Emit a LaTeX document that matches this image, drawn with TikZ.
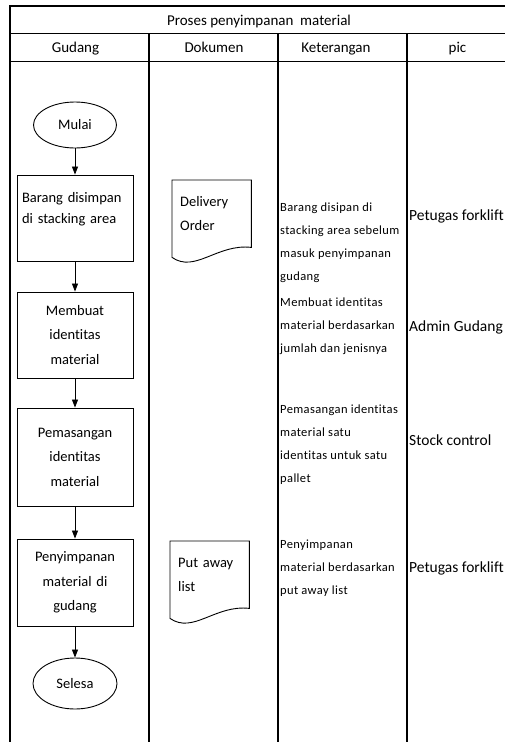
\documentclass[tikz,border=0pt]{standalone}
\usepackage{fontspec}
\setmainfont{Carlito}[Ligatures={NoCommon}]
\newfontfamily\ketfont{Carlito}[Ligatures={NoCommon},LetterSpace=3]
\usetikzlibrary{arrows.meta,shapes.geometric,calc}
\begin{document}
\begin{tikzpicture}[x=1pt,y=-1pt,
  tbl/.style={line width=1.6pt},
  hline/.style={line width=1pt},
  hdr/.style={font=\fontsize{15}{18}\selectfont, inner sep=0pt, anchor=base},
  procbox/.style={draw, line width=0.9pt, minimum width=116pt, text width=106pt, inner xsep=5pt, inner ysep=0pt, align=center, font=\fontsize{14.5}{24.5}\selectfont},
  term/.style={draw, ellipse, line width=0.9pt, inner sep=0pt, font=\fontsize{14.5}{17}\selectfont},
  doctext/.style={anchor=north west, minimum height=67pt, text width=63pt, inner xsep=8pt, inner ysep=0pt, align=left, font=\fontsize{14.5}{24}\selectfont},
  docline/.style={line width=0.9pt},
  ket/.style={anchor=west, align=left, inner sep=0pt, font=\ketfont\fontsize{12.5}{23}\selectfont},
  pictext/.style={anchor=west, inner sep=0pt, font=\fontsize{15.5}{18}\selectfont},
  flow/.style={-{Triangle[length=8pt,width=6pt]}, line width=0.8pt}
]
\useasboundingbox (0,0) rectangle (504,742);
\fill[white] (0,0) rectangle (504,742);

% table frame
\draw[tbl] (10,760) -- (10,6) -- (507,6) -- (507,760);
\draw[hline] (10,33) -- (507,33);
\draw[hline] (10,61) -- (507,61);
\draw[tbl] (149,33) -- (149,760);
\draw[tbl] (278,33) -- (278,760);
\draw[tbl] (407,33) -- (407,760);

% headers
\node[hdr] (title) at (259,25) {Proses penyimpanan~~material};
\node[hdr] (hg) at (75.5,52.5) {Gudang};
\node[hdr] (hd) at (214,52.5) {Dokumen};
\node[hdr] (hk) at (336,52.5) {Keterangan};
\node[hdr] (hp) at (457.5,52.5) {pic};

% Gudang column
\node[term, minimum width=83pt, minimum height=46pt] (mulai) at (75,125) {Mulai};
\node[procbox, align=left, font=\fontsize{14.5}{21}\selectfont, minimum height=86pt] (b1) at (75,218) {Barang disimpan\\di stacking area\\~};
\node[procbox, minimum height=86pt] (b2) at (75,335) {Membuat\\identitas\\material};
\node[procbox, minimum height=98pt] (b3) at (75,457) {Pemasangan\\identitas\\material};
\node[procbox, minimum height=87pt] (b4) at (75,582.5) {Penyimpanan\\material di\\gudang};
\node[term, minimum width=84pt, minimum height=51pt] (selesa) at (75,683.5) {Selesa};

\draw[flow] (mulai) -- (b1);
\draw[flow] (b1) -- (b2);
\draw[flow] (b2) -- (b3);
\draw[flow] (b3) -- (b4);
\draw[flow] (b4) -- (selesa);

% Dokumen column
\node[doctext] (d1) at (172,180) {Delivery\\Order};
\node[doctext] (d2) at (170,541) {Put away\\list};
\foreach \d in {d1,d2}{
  \draw[docline] (\d.north west) -- (\d.north east) -- (\d.south east)
    .. controls ($(\d.south east)+(-34,-4)$) and ($(\d.south west)+(23,26)$) .. ($(\d.south west)+(0,10)$) -- cycle;
}

% Keterangan column
\node[ket] (k1) at (280,242.5) {Barang disipan di\\stacking area sebelum\\masuk penyimpanan\\gudang};
\node[ket] (k2) at (280,326) {Membuat identitas\\material berdasarkan\\jumlah dan jenisnya};
\node[ket] (k3) at (280,445) {Pemasangan identitas\\material satu\\identitas untuk satu\\pallet};
\node[ket] (k4) at (280,568) {Penyimpanan\\material berdasarkan\\put away list};

% pic column
\node[pictext] (p1) at (409,216) {Petugas forklift};
\node[pictext] (p2) at (409,327) {Admin Gudang};
\node[pictext] (p3) at (409,440) {Stock control};
\node[pictext] (p4) at (409,568) {Petugas forklift};
\end{tikzpicture}
\end{document}
